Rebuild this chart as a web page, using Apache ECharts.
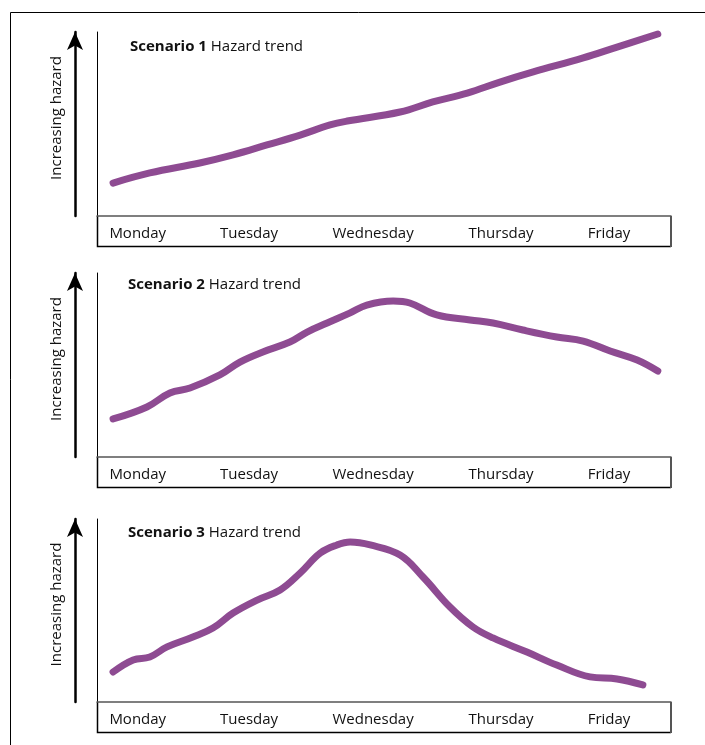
<!DOCTYPE html>
<html>
<head>
<meta charset="utf-8">
<script src="https://cdn.jsdelivr.net/npm/echarts@6/dist/echarts.min.js"></script>
<style>html,body{margin:0;padding:0;background:#fff}#c{width:705px;height:745px}</style>
</head>
<body>
<div id="c"></div>
<script>
// Day labels and where they sit on the 0–100 time scale
const dayLabels = ['Monday', 'Tuesday', 'Wednesday', 'Thursday', 'Friday'];
const dayPositions = [7.1, 26.5, 48.1, 70.4, 89.2];

const scenarioTitles = ['Scenario 1', 'Scenario 2', 'Scenario 3'];
const subtitle = 'Hazard trend';
const yAxisName = 'Increasing hazard';

// [time (0–100), hazard (0–100)]
const scenario1 = [
  [2.8, 17.9], [9.2, 23.4], [17.9, 28.8], [23.7, 33.2], [29.6, 38.6], [35.4, 44.0],
  [40.6, 49.5], [43.6, 51.6], [52.8, 56.5], [58.5, 62.0], [64.5, 66.8], [70.2, 72.8],
  [76.0, 78.3], [84.7, 85.9], [90.6, 91.8], [97.7, 98.9]
];
const scenario2 = [
  [2.8, 20.7], [8.7, 27.2], [12.7, 34.8], [16.2, 37.5], [21.4, 44.6], [24.9, 51.6],
  [28.9, 57.1], [33.6, 62.5], [36.6, 67.9], [40.1, 72.8], [44.1, 78.3], [47.0, 82.6],
  [51.6, 84.8], [54.5, 83.7], [59.2, 77.2], [65.0, 74.5], [69.0, 72.8], [74.2, 69.0],
  [80.1, 65.2], [84.7, 63.0], [89.4, 57.6], [94.1, 52.7], [97.7, 46.7]
];
const scenario3 = [
  [2.8, 16.4], [6.3, 23.0], [9.2, 24.6], [12.2, 30.1], [16.7, 35.5], [20.2, 40.4],
  [23.7, 48.6], [27.9, 55.7], [31.9, 61.2], [35.4, 70.5], [38.9, 81.4], [41.8, 85.8],
  [44.1, 87.4], [47.6, 85.8], [52.8, 80.3], [56.8, 68.3], [61.5, 51.9], [65.5, 41.0],
  [69.0, 35.0], [74.9, 27.3], [80.1, 20.2], [85.9, 13.7], [90.6, 12.6], [95.1, 9.3]
];
const scenarios = [scenario1, scenario2, scenario3];

const FONT = 'Open Sans';
const LINE_COLOR = '#8e4b92';
const GRID_LEFT = 97, GRID_W = 574, BOX_H = 30;
const panels = [
  { top: 32, height: 184, titleLeft: 130, titleTop: 39 },
  { top: 273, height: 184, titleLeft: 128, titleTop: 277 },
  { top: 519, height: 183, titleLeft: 128, titleTop: 525 }
];

const grid = [], xAxis = [], yAxis = [], series = [], title = [], graphic = [];

graphic.push({
  type: 'rect', shape: { x: 10.5, y: 12.5, width: 760, height: 800 },
  style: { fill: 'none', stroke: '#000', lineWidth: 1 }, silent: true
});

panels.forEach((p, i) => {
  grid.push({ left: GRID_LEFT, top: p.top, width: GRID_W, height: p.height });
  xAxis.push({
    type: 'value', gridIndex: i, min: 0, max: 100,
    axisLine: { show: true, lineStyle: { color: '#555', width: 1.5 } },
    axisTick: { show: false }, splitLine: { show: false },
    axisLabel: {
      customValues: dayPositions,
      formatter: v => dayLabels[dayPositions.indexOf(v)] || '',
      margin: 10, color: '#111', fontFamily: FONT, fontSize: 15
    }
  });
  yAxis.push({
    type: 'value', gridIndex: i, min: 0, max: 100,
    axisLine: { show: true, lineStyle: { color: '#000', width: 1 } },
    axisTick: { show: false }, axisLabel: { show: false }, splitLine: { show: false }
  });
  yAxis.push({
    type: 'value', gridIndex: i, min: 0, max: 100, position: 'left', offset: 22,
    axisLine: { show: true, symbol: ['none', 'arrow'], symbolSize: [12, 18],
      lineStyle: { color: '#000', width: 2.5 } },
    axisTick: { show: false }, axisLabel: { show: false }, splitLine: { show: false },
    name: yAxisName, nameLocation: 'middle', nameGap: 11, nameRotate: 90,
    nameTextStyle: { color: '#111', fontFamily: FONT, fontSize: 15, padding: [0, 0, 0, 12] }
  });
  series.push({
    type: 'line', xAxisIndex: i, yAxisIndex: i * 2, data: scenarios[i],
    smooth: 0.4, showSymbol: false, symbol: 'none',
    lineStyle: { color: LINE_COLOR, width: 7, cap: 'round', join: 'round' }
  });
  title.push({
    left: p.titleLeft, top: p.titleTop, padding: 0,
    text: '{b|' + scenarioTitles[i] + '} ' + subtitle,
    textStyle: {
      fontFamily: FONT, fontSize: 15, fontWeight: 'normal', color: '#111',
      rich: { b: { fontFamily: FONT, fontSize: 15, fontWeight: 'bold', color: '#111' } }
    }
  });
  const yTop = p.top + p.height;
  graphic.push({
    type: 'polyline', silent: true,
    shape: { points: [[GRID_LEFT + 0.5, yTop], [GRID_LEFT + 0.5, yTop + BOX_H + 0.5], [GRID_LEFT + GRID_W, yTop + BOX_H + 0.5]] },
    style: { stroke: '#000', lineWidth: 1.5, fill: 'none' }
  });
  graphic.push({
    type: 'line', silent: true,
    shape: { x1: GRID_LEFT + GRID_W, y1: yTop, x2: GRID_LEFT + GRID_W, y2: yTop + BOX_H + 1 },
    style: { stroke: '#555', lineWidth: 2 }
  });
});

const chart = echarts.init(document.getElementById('c'), null, { renderer: 'canvas' });
chart.setOption({ animation: false, grid, xAxis, yAxis, series, title, graphic });
</script>
</body>
</html>
